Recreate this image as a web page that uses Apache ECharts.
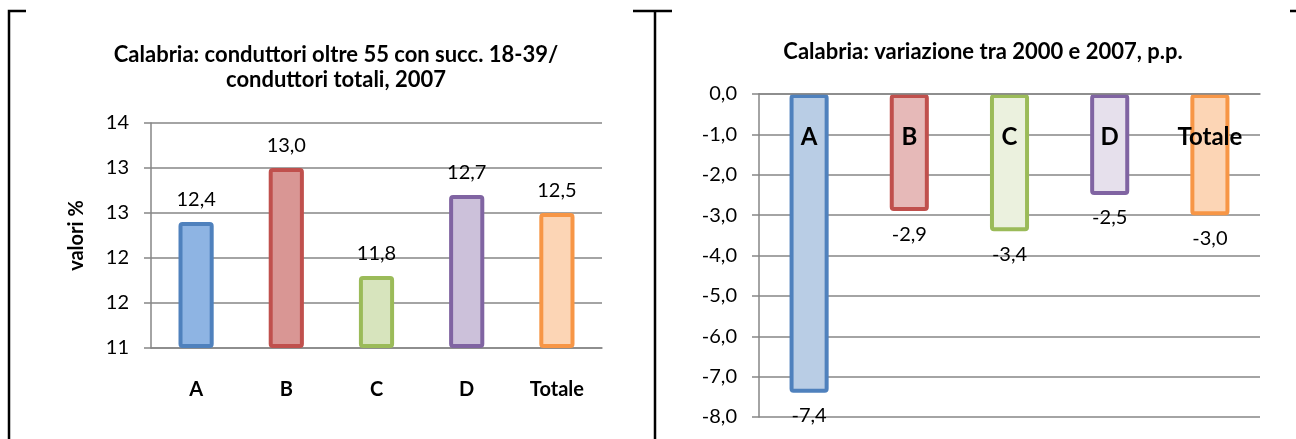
<!DOCTYPE html>
<html><head><meta charset="utf-8">
<script src="https://cdn.jsdelivr.net/npm/echarts@6/dist/echarts.min.js"></script>
<style>html,body{margin:0;padding:0;background:#fff}#c{width:1296px;height:439px}</style>
</head><body><div id="c"></div>
<script>
// ---- data ----
const categories = ['A', 'B', 'C', 'D', 'Totale'];
const share2007 = [12.4, 13.0, 11.8, 12.7, 12.5];          // left chart, valori %
const change2000to2007 = [-7.4, -2.9, -3.4, -2.5, -3.0];  // right chart, p.p.
const leftTitle = 'Calabria: conduttori oltre 55 con succ. 18-39/\nconduttori totali, 2007';
const rightTitle = 'Calabria: variazione tra 2000 e 2007, p.p.';

// ---- styles ----
const borderColors = ['#4F81BD', '#C0504D', '#9BBB59', '#8064A2', '#F79646'];
const leftFills = ['#8EB4E3', '#D99694', '#D7E4BD', '#CCC1DA', '#FCD5B5'];
const rightFills = ['#B9CDE5', '#E6B9B8', '#EBF1DE', '#E6E0EC', '#FCD5B5'];
const FONT = 'Lato';
const GRID = '#868686';
const comma1 = v => v.toFixed(1).replace('.', ',').replace('-0,0', '0,0');

const chart = echarts.init(document.getElementById('c'));
chart.setOption({
  animation: false,
  textStyle: { fontFamily: FONT, color: '#000' },
  title: [
    { text: leftTitle, left: 331, top: 37, textAlign: 'center',
      textStyle: { fontFamily: FONT, fontSize: 22, fontWeight: 'bold', color: '#000', lineHeight: 25 } },
    { text: rightTitle, left: 978, top: 36, textAlign: 'center',
      textStyle: { fontFamily: FONT, fontSize: 22, fontWeight: 'bold', color: '#000' } }
  ],
  grid: [
    { left: 151, top: 123, width: 451, height: 225 },
    { left: 759, top: 94, width: 501, height: 323 }
  ],
  xAxis: [
    { gridIndex: 0, type: 'category', data: categories,
      axisLine: { lineStyle: { color: GRID, width: 1.5 } },
      axisTick: { length: 7, lineStyle: { color: GRID, width: 1.5 } },
      axisLabel: { margin: 32, fontFamily: FONT, fontSize: 20, fontWeight: 'bold', color: '#000' } },
    { gridIndex: 1, type: 'category', data: categories, position: 'top', z: 10,
      axisLine: { lineStyle: { color: GRID, width: 1.5 } },
      axisTick: { length: 7, lineStyle: { color: GRID, width: 1.5 } },
      axisLabel: { inside: true, margin: 31, fontFamily: FONT, fontSize: 24, fontWeight: 'bold', color: '#000' } }
  ],
  yAxis: [
    { gridIndex: 0, type: 'value', min: 11, max: 13.5, interval: 0.5, startValue: 11,
      name: 'valori %', nameLocation: 'middle', nameGap: 64, nameRotate: 90,
      nameTextStyle: { fontFamily: FONT, fontSize: 20, fontWeight: 'bold', color: '#000' },
      axisLine: { show: true, lineStyle: { color: GRID, width: 1.5 } },
      axisTick: { show: true, length: 7, lineStyle: { color: GRID, width: 1.5 } },
      splitLine: { lineStyle: { color: GRID, width: 1.5 } },
      axisLabel: { margin: 22, fontFamily: FONT, fontSize: 20, color: '#000',
        formatter: v => String(Math.round(v)) } },
    { gridIndex: 1, type: 'value', min: -8, max: 0, interval: 1,
      axisLine: { show: true, lineStyle: { color: GRID, width: 1.5 } },
      axisTick: { show: true, length: 7, lineStyle: { color: GRID, width: 1.5 } },
      splitLine: { lineStyle: { color: GRID, width: 1.5 } },
      axisLabel: { margin: 22, fontFamily: FONT, fontSize: 20, color: '#000', formatter: comma1 } }
  ],
  series: [
    { type: 'bar', xAxisIndex: 0, yAxisIndex: 0, barWidth: '39%', clip: false,
      data: share2007.map((v, i) => ({ value: v,
        itemStyle: { color: leftFills[i], borderColor: borderColors[i], borderWidth: 4, borderRadius: 2 } })),
      label: { show: true, position: 'top', distance: 12, fontFamily: FONT, fontSize: 20, color: '#000',
        formatter: p => comma1(p.value) } },
    { type: 'bar', xAxisIndex: 1, yAxisIndex: 1, barWidth: '39%',
      data: change2000to2007.map((v, i) => ({ value: v,
        itemStyle: { color: rightFills[i], borderColor: borderColors[i], borderWidth: 4, borderRadius: 2 } })),
      label: { show: true, position: 'bottom', distance: 13, fontFamily: FONT, fontSize: 20, color: '#000',
        formatter: p => comma1(p.value) } }
  ],
  graphic: [
    { type: 'polyline', shape: { points: [[26, 11], [9, 11], [9, 439]] }, style: { stroke: '#000', lineWidth: 2.5, fill: null } },
    { type: 'line', shape: { x1: 633, y1: 11, x2: 672, y2: 11 }, style: { stroke: '#000', lineWidth: 2.5 } },
    { type: 'line', shape: { x1: 655, y1: 11, x2: 655, y2: 439 }, style: { stroke: '#000', lineWidth: 2.5 } },
    { type: 'line', shape: { x1: 1290, y1: 11, x2: 1296, y2: 11 }, style: { stroke: '#000', lineWidth: 2.5 } }
  ]
});
</script>
</body></html>
